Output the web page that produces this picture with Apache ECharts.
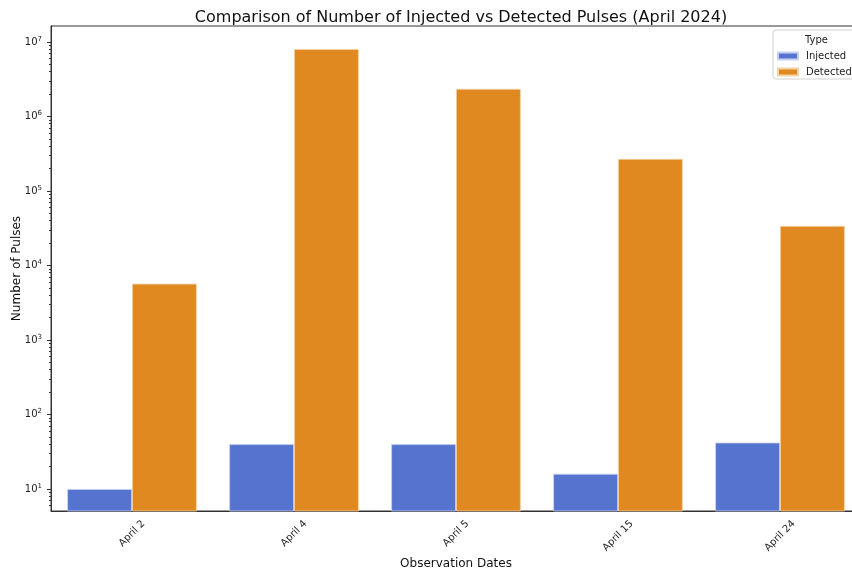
<!DOCTYPE html>
<html>
<head>
<meta charset="utf-8">
<script src="https://cdn.jsdelivr.net/npm/echarts@6/dist/echarts.min.js"></script>
<style>
  html, body { margin: 0; padding: 0; background: #fff; }
  #chart { width: 852px; height: 573px; }
</style>
</head>
<body>
<div id="chart"></div>
<script>
// Observation dates and pulse counts
const dates = ['April 2', 'April 4', 'April 5', 'April 15', 'April 24'];
const injected = [10, 40, 40, 16, 42];
const detected = [5700, 8050000, 2350000, 270000, 34000];
const seriesNames = ['Injected', 'Detected'];

// Log-axis tick positions
const majorTicks = [10, 100, 1000, 10000, 100000, 1000000, 10000000];
const yMin = 5.07, yMax = 1.64e7;
const minorTicks = [];
for (let e = 0; e <= 7; e++) {
  for (let m = 2; m <= 9; m++) {
    const v = m * Math.pow(10, e);
    if (v > yMin && v < yMax) minorTicks.push(v);
  }
}

const font = 'DejaVu Sans';
const chart = echarts.init(document.getElementById('chart'));

function expLabel(v) {
  const e = Math.round(Math.log10(v));
  return '{b|10}{s|' + e + '}';
}

const axisBase = {
  type: 'log',
  logBase: 10,
  min: yMin,
  max: yMax,
  splitLine: { show: false },
  axisLine: { show: true, lineStyle: { color: '#333', width: 1 } }
};

const option = {
  animation: false,
  textStyle: { fontFamily: font },
  title: [
    {
      text: 'Comparison of Number of Injected vs Detected Pulses (April 2024)',
      left: 456, top: 5, textAlign: 'center',
      textStyle: { fontFamily: font, fontSize: 16, fontWeight: 'normal', color: '#111' }
    },
    {
      text: 'Type', left: 800, top: 35, z: 10, padding: [0, 5, 0, 5],
      textStyle: { fontFamily: font, fontSize: 10, fontWeight: 'normal', color: '#222' }
    }
  ],
  legend: {
    data: seriesNames,
    orient: 'vertical',
    left: 773, top: 30,
    padding: [21, 6, 2, 4],
    itemGap: 6,
    itemWidth: 20, itemHeight: 7,
    borderColor: '#d0d0d0', borderWidth: 1, borderRadius: 3,
    backgroundColor: '#fff',
    textStyle: { fontFamily: font, fontSize: 10, color: '#222', padding: [0, 0, 0, 3] },
    icon: 'rect'
  },
  grid: {
    left: 51, right: -9, top: 26, bottom: 62,
    show: true, borderColor: '#333', borderWidth: 1,
    outerBoundsMode: 'none'
  },
  xAxis: {
    type: 'category',
    data: dates,
    name: 'Observation Dates',
    nameLocation: 'middle',
    nameGap: 47,
    nameTextStyle: { fontFamily: font, fontSize: 12, color: '#111' },
    axisLine: { lineStyle: { color: '#333' } },
    axisTick: { alignWithLabel: true, length: 4, lineStyle: { color: '#333' } },
    axisLabel: { show: false }
  },
  yAxis: [
    Object.assign({}, axisBase, {
      name: 'Number of Pulses',
      nameLocation: 'middle',
      nameGap: 28,
      nameMoveOverlap: false,
      nameTextStyle: { fontFamily: font, fontSize: 12, color: '#111' },
      axisTick: { show: true, length: 4, customValues: majorTicks, lineStyle: { color: '#333' } },
      axisLabel: {
        customValues: majorTicks,
        margin: 9,
        formatter: expLabel,
        rich: {
          b: { fontFamily: font, fontSize: 10, color: '#222' },
          s: { fontFamily: font, fontSize: 7, color: '#222', verticalAlign: 'top', padding: [0, 0, 6, 0] }
        }
      }
    }),
    Object.assign({}, axisBase, {
      position: 'left',
      axisLabel: { show: false },
      axisTick: { show: true, length: 2, customValues: minorTicks, lineStyle: { color: '#333' } }
    })
  ],
  series: [
    {
      name: seriesNames[0], type: 'bar', data: injected,
      barGap: '0%', barCategoryGap: '20%',
      itemStyle: { color: '#5574cf', borderColor: '#c8d1ef', borderWidth: 0.8 }
    },
    {
      name: seriesNames[1], type: 'bar', data: detected,
      barGap: '0%', barCategoryGap: '20%',
      itemStyle: { color: '#e08921', borderColor: '#f3d2a8', borderWidth: 0.8 }
    }
  ]
};
chart.setOption(option);

// Rotated date labels, each centred horizontally under its tick
const ctx = document.createElement('canvas').getContext('2d');
ctx.font = '10px "DejaVu Sans"';
const axisY = chart.convertToPixel({ yAxisIndex: 0 }, yMin);
const labels = dates.map(function (d) {
  const x = chart.convertToPixel({ xAxisIndex: 0 }, d);
  const w = ctx.measureText(d).width;
  const half = (w + 9) / (2 * Math.SQRT2);
  return {
    type: 'text',
    x: x, y: axisY + 8 + half,
    rotation: Math.PI / 4,
    style: {
      text: d, fontFamily: font, fontSize: 10, fill: '#222',
      align: 'center', verticalAlign: 'middle'
    }
  };
});
chart.setOption({ graphic: labels });
</script>
</body>
</html>
